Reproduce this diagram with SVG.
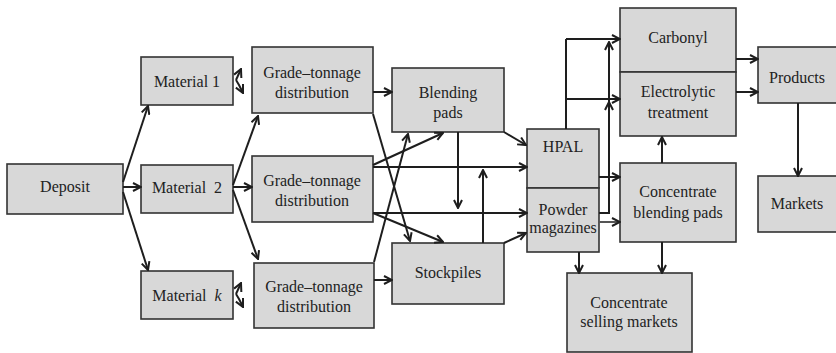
<svg xmlns="http://www.w3.org/2000/svg" width="836" height="353" viewBox="0 0 836 353">
<style>
.box{fill:#d8d8d8;stroke:#333;stroke-width:1.6}
.t{font-size:16px;fill:#222;text-anchor:middle}
.c{fill:none;stroke:#1e1e1e;stroke-width:2;marker-end:url(#a)}
.l{fill:none;stroke:#1e1e1e;stroke-width:2}
</style>
<defs>
<marker id="a" viewBox="0 0 10 10" refX="9" refY="5" markerWidth="10" markerHeight="10" markerUnits="userSpaceOnUse" orient="auto">
<path d="M1,1 L9,5 L1,9" fill="none" stroke="#1e1e1e" stroke-width="2"/>
</marker>
</defs>
<rect width="836" height="353" fill="#fff"/>
<g font-family="Liberation Serif, DejaVu Serif, serif">
<g id="deposit"><rect class="box" x="7" y="164" width="116" height="50"/><text class="t" x="65" y="192">Deposit</text></g>
<g id="material1"><rect class="box" x="141" y="57" width="92" height="48"/><text class="t" x="187" y="87">Material 1</text></g>
<g id="material2"><rect class="box" x="141" y="165" width="92" height="48"/><text class="t" x="187" y="193" xml:space="preserve">Material  2</text></g>
<g id="materialk"><rect class="box" x="141" y="271" width="92" height="48"/><text class="t" x="187" y="301" xml:space="preserve">Material  <tspan font-style="italic">k</tspan></text></g>
<g id="gt1"><rect class="box" x="252" y="47" width="121" height="66"/><text class="t" x="312" y="78">Grade–tonnage</text><text class="t" x="312" y="98">distribution</text></g>
<g id="gt2"><rect class="box" x="252" y="156" width="121" height="66"/><text class="t" x="312" y="186">Grade–tonnage</text><text class="t" x="312" y="206">distribution</text></g>
<g id="gt3"><rect class="box" x="254" y="263" width="120" height="65"/><text class="t" x="314" y="292">Grade–tonnage</text><text class="t" x="314" y="312">distribution</text></g>
<g id="blending"><rect class="box" x="392" y="68" width="112" height="64"/><text class="t" x="448" y="98">Blending</text><text class="t" x="448" y="118">pads</text></g>
<g id="stockpiles"><rect class="box" x="392" y="243" width="112" height="61"/><text class="t" x="448" y="278">Stockpiles</text></g>
<g id="hpal"><rect class="box" x="527" y="129" width="72" height="59"/><text class="t" x="563" y="152" font-size="14">HPAL</text></g>
<g id="powder"><rect class="box" x="527" y="188" width="72" height="64"/><text class="t" x="563" y="215">Powder</text><text class="t" x="563" y="233">magazines</text></g>
<g id="carbonyl"><rect class="box" x="620" y="8" width="116" height="64"/><text class="t" x="678" y="43">Carbonyl</text></g>
<g id="electrolytic"><rect class="box" x="620" y="72" width="116" height="64"/><text class="t" x="678" y="97">Electrolytic</text><text class="t" x="678" y="118">treatment</text></g>
<g id="cbp"><rect class="box" x="620" y="163" width="116" height="79"/><text class="t" x="678" y="197">Concentrate</text><text class="t" x="678" y="218">blending pads</text></g>
<g id="csm"><rect class="box" x="567" y="273" width="125" height="79"/><text class="t" x="629" y="308">Concentrate</text><text class="t" x="629" y="327">selling markets</text></g>
<g id="products"><rect class="box" x="758" y="47" width="82" height="56"/><text class="t" x="797" y="83">Products</text></g>
<g id="markets"><rect class="box" x="758" y="176" width="82" height="56"/><text class="t" x="797" y="209">Markets</text></g>
</g>
<g id="connectors">
<path class="c" d="M123,182 L148,106"/>
<path class="c" d="M123,187 H141"/>
<path class="c" d="M123,192 L148,270"/>
<path class="c" d="M236,80 L241,69"/>
<path class="c" d="M236,80 L239,85 L243,93"/>
<path class="c" d="M236,294 L241,283"/>
<path class="c" d="M236,294 L239,299 L243,307"/>
<path class="c" d="M233,185 L258,116"/>
<path class="c" d="M233,187 H252"/>
<path class="c" d="M233,190 L258,259"/>
<path class="c" d="M373,92 H392"/>
<path class="c" d="M373,114 L410,241"/>
<path class="c" d="M373,165 L443,133"/>
<path class="c" d="M373,167 H527"/>
<path class="c" d="M373,213 H527"/>
<path class="c" d="M373,213 L443,242"/>
<path class="c" d="M374,262 L408,134"/>
<path class="c" d="M374,280 H392"/>
<path class="c" d="M458,132 V208"/>
<path class="c" d="M483,243 V170"/>
<path class="c" d="M504,132 L526,145"/>
<path class="c" d="M504,243 L526,233"/>
<path class="l" d="M566,129 V39"/>
<path class="c" d="M566,39 H620"/>
<path class="c" d="M566,99 H620"/>
<path class="c" d="M599,213 H609 V102"/>
<path class="c" d="M609,102 V42"/>
<path class="c" d="M599,177 H620"/>
<path class="c" d="M599,222 H620" style="stroke:#555"/>
<path class="c" d="M579,252 V273"/>
<path class="c" d="M662,163 V137"/>
<path class="c" d="M662,242 V273"/>
<path class="c" d="M736,59 H758"/>
<path class="c" d="M736,92 H758"/>
<path class="c" d="M798,103 V176"/>
</g>
</svg>
